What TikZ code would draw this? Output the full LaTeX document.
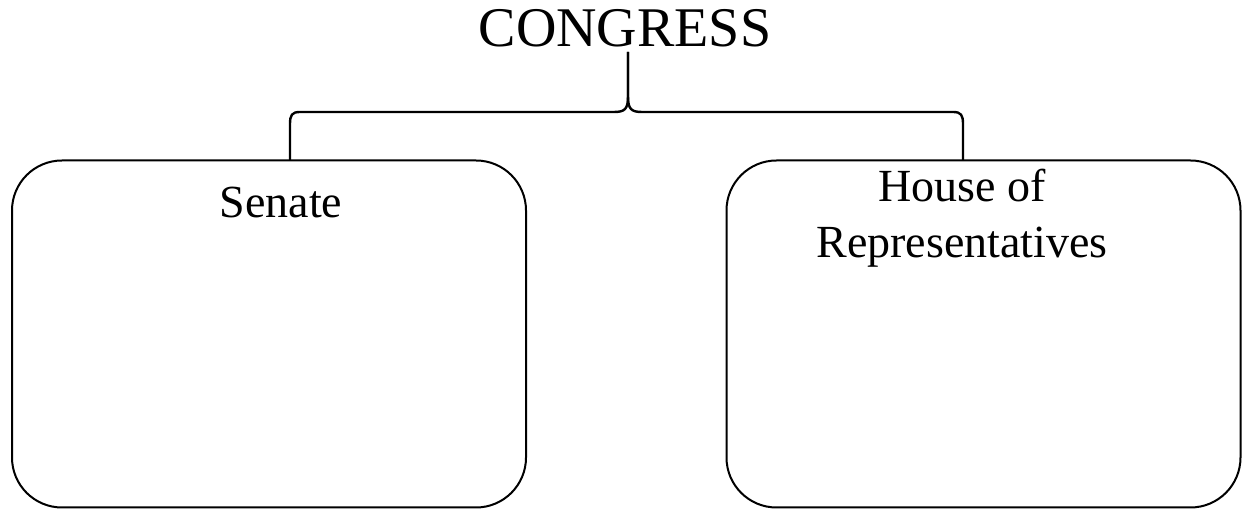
\documentclass[tikz,border=0pt]{standalone}
\usepackage{fontspec}
\setmainfont{Liberation Serif}
\usepackage{tikz}

\tikzset{
    housebox/.style={draw, line width=2pt, rounded corners=50pt, minimum width=514pt, minimum height=347pt, inner sep=0pt},
    headtext/.style={font=\fontsize{56}{60}\selectfont, inner sep=0pt, anchor=base},
    boxtext/.style={font=\fontsize{46}{56}\selectfont, inner sep=0pt, align=center},
    brace/.style={line width=2.4pt}
}

\begin{document}
\begin{tikzpicture}[x=1pt,y=1pt]
    \useasboundingbox (0,0) rectangle (1243,510);
    \node[headtext] (congress) at (625,463) {CONGRESS};
    \node[housebox] (senate) at (269,176) {};
    \node[housebox] (house) at (983.5,176) {};
    \node[boxtext, anchor=base] (senatelbl) at (281,292) {Senate};
    \node[boxtext, anchor=base] (houselbl) at (962,308) {House of};
    \node[boxtext, anchor=base] (reprlbl) at (962,252) {Representatives};
    % brace joining the two houses
    \coordinate (tip) at (628,458);
    \coordinate (senatetop) at (290,350);
    \coordinate (housetop) at (963,350);
    \draw[brace] (tip) -- (628,414) .. controls (628,401) and (625,398) .. (614,398)
        -- (300,398) .. controls (292,398) and (290,395) .. (290,386) -- (senatetop);
    \draw[brace] (tip) -- (628,414) .. controls (628,401) and (631,398) .. (642,398)
        -- (953,398) .. controls (961,398) and (963,395) .. (963,386) -- (housetop);
\end{tikzpicture}
\end{document}
